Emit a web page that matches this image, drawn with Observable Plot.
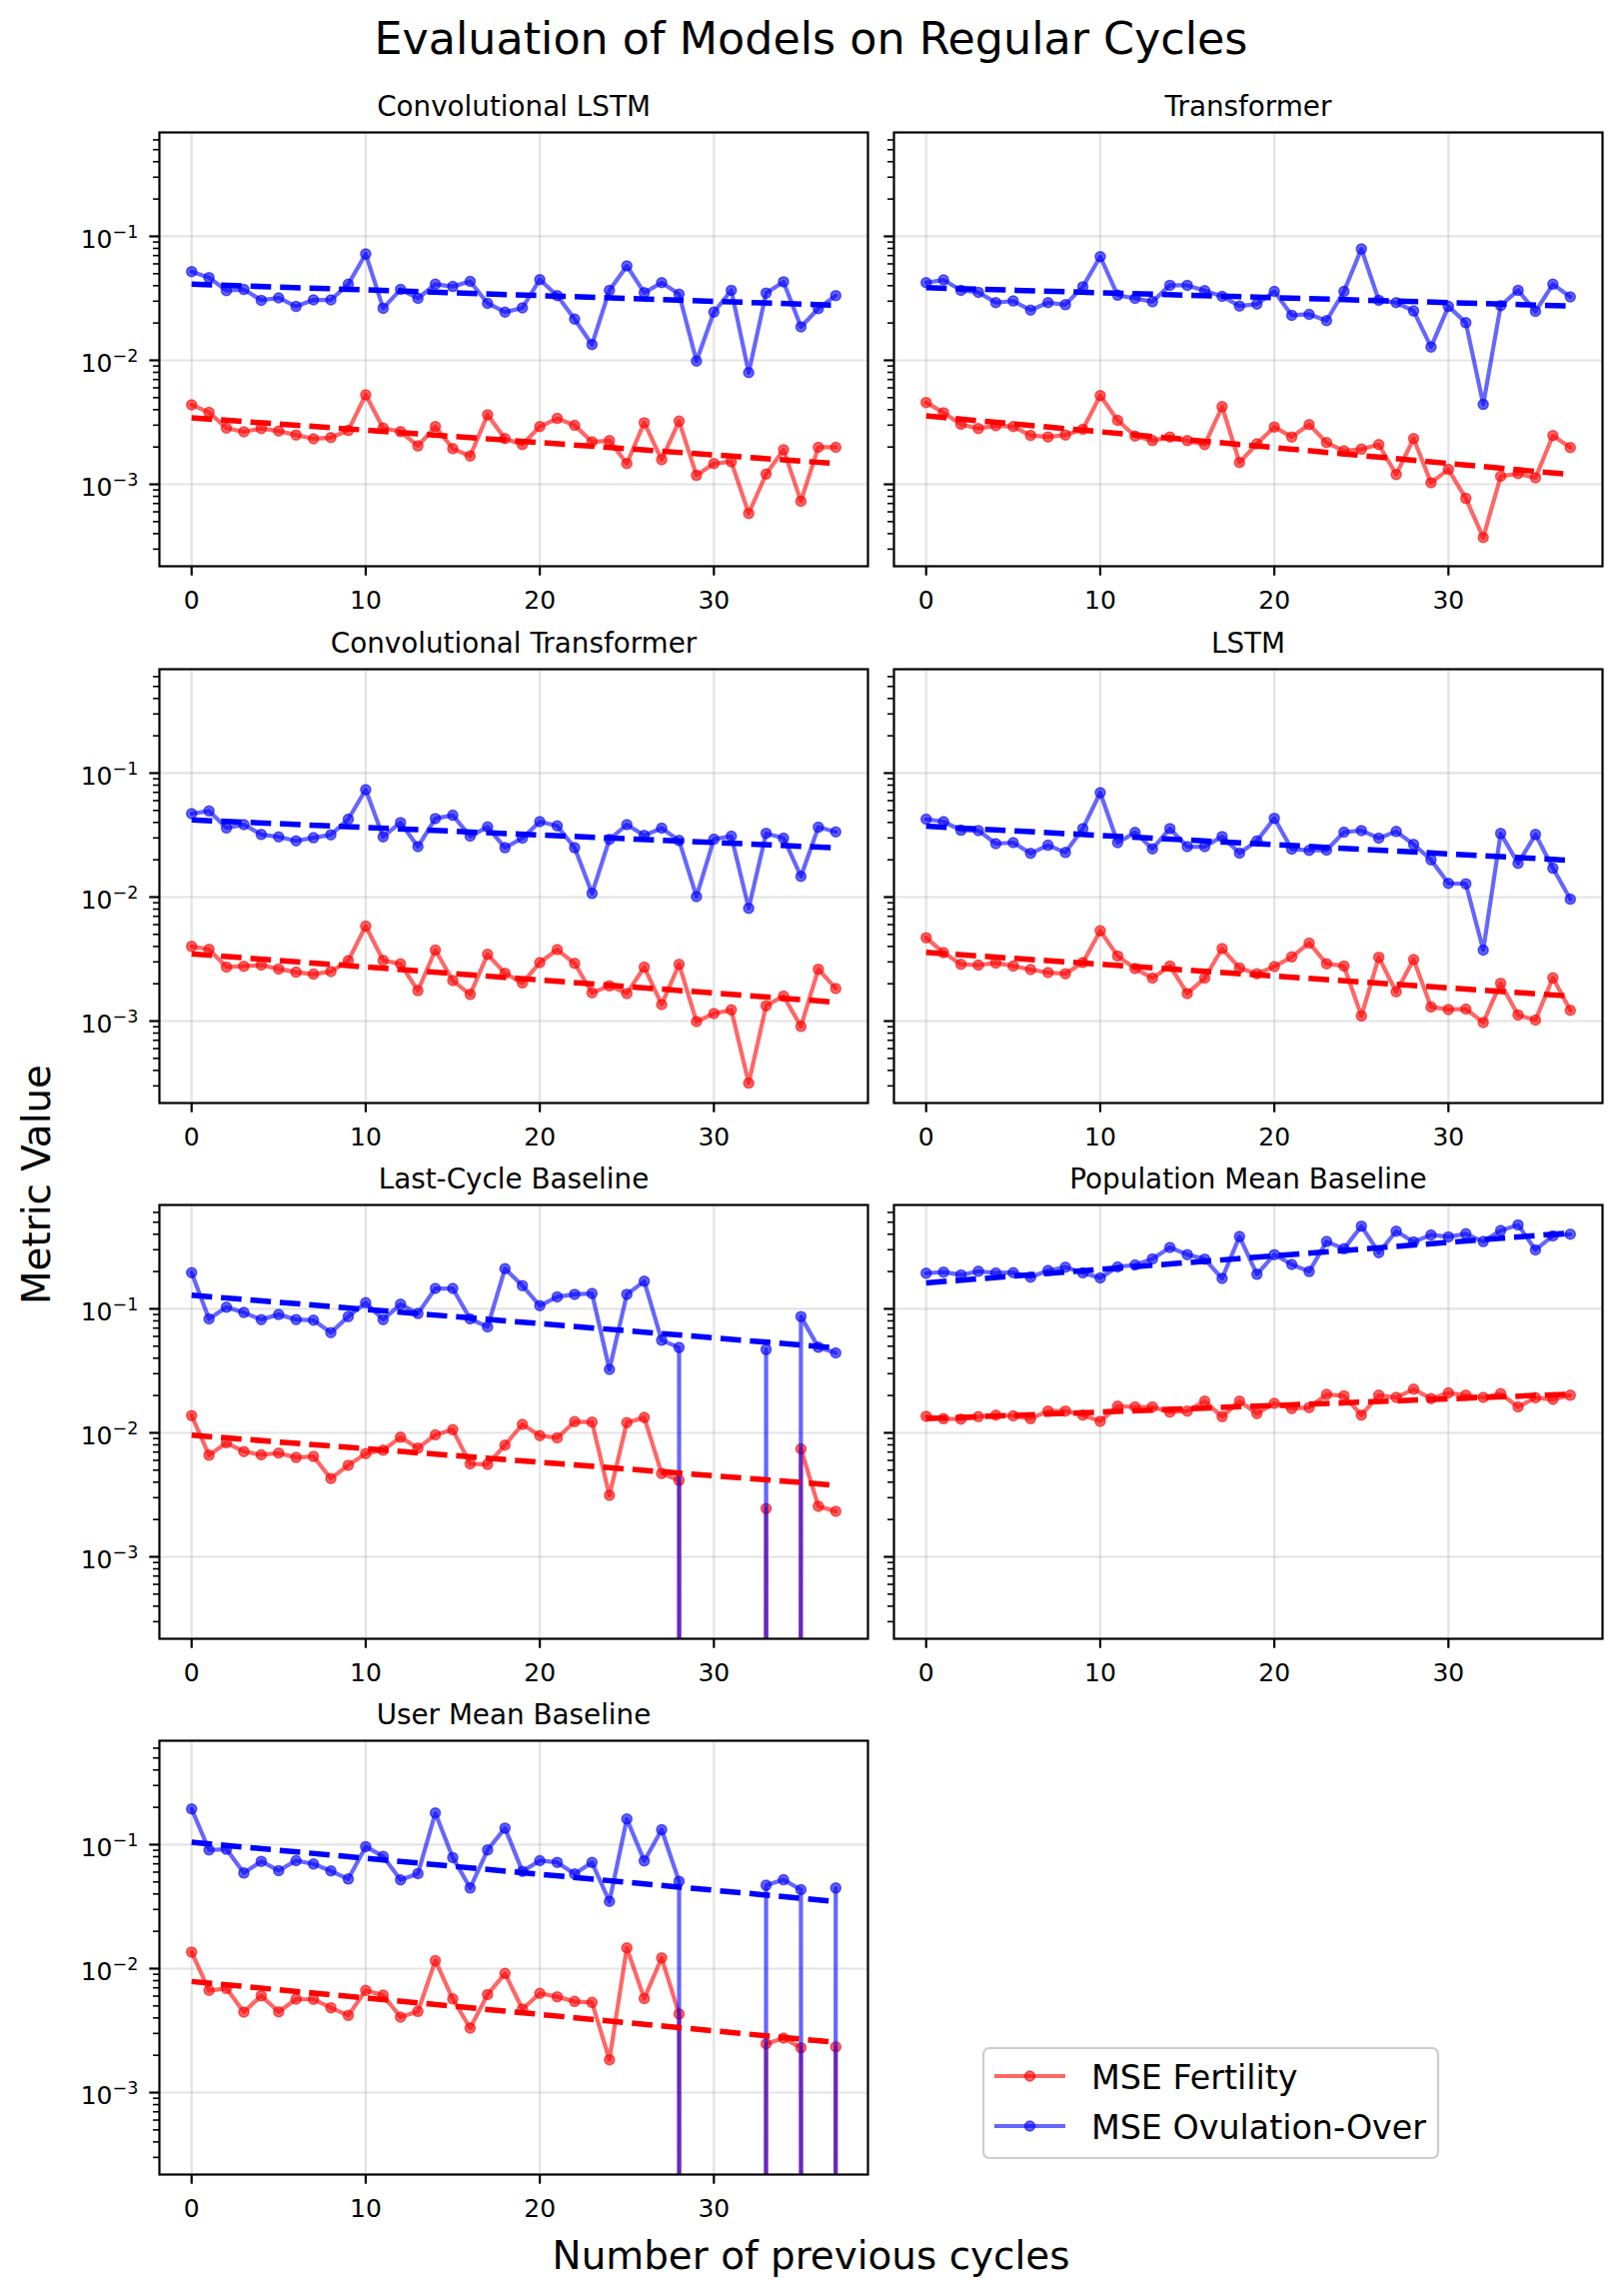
<!DOCTYPE html>
<html>
<head>
<meta charset="utf-8">
<script src="https://cdn.jsdelivr.net/npm/d3@7"></script>
<script src="https://cdn.jsdelivr.net/npm/@observablehq/plot@0.6"></script>
<style>
html, body { margin: 0; padding: 0; background: #fff; }
#root { position: relative; width: 1623px; height: 2297px; overflow: hidden; background: #fff; font-family: "DejaVu Sans", sans-serif; }
</style>
</head>
<body>
<div id="root"></div>
<script>
// ---------------- data ----------------
const cycles = [0,1,2,3,4,5,6,7,8,9,10,11,12,13,14,15,16,17,18,19,20,21,22,23,24,25,26,27,28,29,30,31,32,33,34,35,36,37];

const modelNames = ["Convolutional LSTM", "Transformer", "Convolutional Transformer", "LSTM",
  "Last-Cycle Baseline", "Population Mean Baseline", "User Mean Baseline"];

const seriesNames = ["MSE Fertility", "MSE Ovulation-Over"];
const seriesColors = ["red", "blue"];

const fertConvLSTM = [0.00438,0.0038,0.00284,0.00265,0.00282,0.00269,0.0025,0.00233,0.00238,0.00272,0.00527,0.00284,0.00266,0.00204,0.00292,0.00194,0.00169,0.00364,0.00234,0.00209,0.00292,0.0034,0.00299,0.0022,0.00225,0.00147,0.00314,0.00158,0.00323,0.00118,0.00147,0.00152,0.000582,0.00121,0.0019,0.000731,0.00199,0.00199];
const ovuConvLSTM = [0.052,0.0465,0.0365,0.0373,0.0305,0.0319,0.0272,0.0307,0.0307,0.0411,0.0721,0.0263,0.0373,0.0316,0.0411,0.0394,0.0433,0.0288,0.0245,0.0265,0.0448,0.0333,0.0215,0.0134,0.0367,0.0578,0.0351,0.0423,0.0342,0.00986,0.0245,0.0367,0.00796,0.0349,0.043,0.0186,0.0261,0.0333];

const fertTransformer = [0.00457,0.00378,0.00305,0.00282,0.00297,0.00292,0.00248,0.00241,0.0025,0.00278,0.0052,0.00328,0.00245,0.00225,0.00241,0.00225,0.00209,0.00423,0.0015,0.00212,0.0029,0.00241,0.00303,0.00217,0.00186,0.00192,0.00209,0.0012,0.00234,0.00103,0.00132,0.00077,0.000372,0.00116,0.00122,0.00113,0.00247,0.00198];
const ovuTransformer = [0.0423,0.0445,0.0367,0.0354,0.0292,0.0301,0.0254,0.0292,0.0281,0.0392,0.0686,0.0335,0.0316,0.0297,0.0403,0.0403,0.0365,0.0328,0.0274,0.0284,0.036,0.0231,0.0235,0.0209,0.036,0.0791,0.0305,0.0292,0.025,0.0128,0.0272,0.0201,0.00441,0.0276,0.0367,0.0248,0.0411,0.0325];

const fertConvTransformer = [0.004,0.00379,0.00273,0.00277,0.00283,0.00263,0.00248,0.00239,0.00251,0.00307,0.00583,0.00309,0.00289,0.00176,0.00374,0.00212,0.00164,0.00345,0.00243,0.00203,0.00296,0.00377,0.00292,0.00169,0.00192,0.00167,0.00272,0.00136,0.00287,0.00099,0.00115,0.00123,0.000316,0.00133,0.00159,0.000906,0.00262,0.00183];
const ovuConvTransformer = [0.0471,0.0495,0.0361,0.0384,0.032,0.0306,0.0284,0.0301,0.0318,0.0425,0.0735,0.0306,0.0399,0.0255,0.043,0.0457,0.031,0.0368,0.025,0.0299,0.0406,0.0375,0.025,0.0107,0.0292,0.0384,0.0314,0.036,0.0286,0.0101,0.0293,0.031,0.00813,0.0327,0.0299,0.0147,0.0366,0.0336];

const fertLSTM = [0.0047,0.00356,0.00287,0.00283,0.00294,0.00278,0.0026,0.00246,0.00241,0.00296,0.00535,0.00335,0.00265,0.00222,0.00278,0.00167,0.00222,0.00384,0.00268,0.00241,0.00275,0.00329,0.00426,0.0029,0.00278,0.0011,0.00327,0.00172,0.00313,0.0013,0.00124,0.00125,0.000975,0.00202,0.00112,0.00102,0.00223,0.00122];
const ovuLSTM = [0.0425,0.0406,0.0346,0.0344,0.027,0.0275,0.0225,0.0262,0.0229,0.0357,0.0695,0.0275,0.0332,0.0245,0.0357,0.0255,0.0255,0.0308,0.0226,0.0284,0.0432,0.0244,0.0238,0.0239,0.0334,0.0344,0.0299,0.0338,0.0266,0.02,0.0129,0.0128,0.00374,0.0326,0.0187,0.032,0.0171,0.00962];

const fertLastCycle = [0.0138,0.0066,0.0083,0.00707,0.00665,0.00686,0.00633,0.00645,0.00428,0.00548,0.00681,0.00724,0.00922,0.00752,0.00964,0.0106,0.00562,0.00556,0.00796,0.0117,0.0095,0.00912,0.0123,0.0122,0.00313,0.0121,0.0133,0.0047,0.00413,0,0,0,0,0.00245,0,0.00743,0.00256,0.00233];
const ovuLastCycle = [0.196,0.083,0.103,0.0934,0.082,0.09,0.082,0.081,0.0644,0.0867,0.112,0.082,0.109,0.0917,0.146,0.146,0.083,0.0716,0.211,0.154,0.106,0.125,0.131,0.133,0.0325,0.131,0.167,0.0558,0.0488,0,0,0,0,0.047,0,0.0867,0.049,0.0441];

const fertPopMean = [0.0136,0.013,0.0129,0.0135,0.0139,0.0137,0.013,0.015,0.015,0.0139,0.0124,0.0164,0.0162,0.0162,0.0147,0.015,0.018,0.0135,0.018,0.0143,0.0173,0.0157,0.016,0.0204,0.0199,0.0139,0.0201,0.0193,0.0225,0.0189,0.021,0.0201,0.0193,0.0207,0.0162,0.0192,0.0186,0.0201];
const ovuPopMean = [0.194,0.198,0.188,0.201,0.195,0.196,0.18,0.204,0.217,0.195,0.178,0.218,0.226,0.253,0.313,0.274,0.252,0.176,0.383,0.19,0.274,0.228,0.2,0.349,0.305,0.465,0.284,0.423,0.347,0.395,0.381,0.403,0.349,0.428,0.476,0.299,0.388,0.4];

const fertUserMean = [0.0136,0.00667,0.00692,0.00446,0.00604,0.00448,0.00567,0.00565,0.00483,0.00419,0.00667,0.0061,0.00406,0.00451,0.0116,0.0057,0.00331,0.00618,0.00914,0.00471,0.00631,0.00593,0.00543,0.00533,0.00184,0.0147,0.00574,0.0122,0.00431,0,0,0,0,0.00247,0.00275,0.0023,0,0.00234];
const ovuUserMean = [0.194,0.0906,0.0917,0.059,0.0733,0.0617,0.0743,0.0698,0.0613,0.0528,0.0964,0.0805,0.0519,0.0584,0.18,0.0786,0.0447,0.0906,0.136,0.0609,0.0743,0.072,0.058,0.0717,0.0348,0.161,0.074,0.132,0.0506,0,0,0,0,0.047,0.0521,0.0433,0,0.0447];

// trend (dashed) line endpoints at the first and last cycle, per model
const trendFertStart = [0.00344, 0.00356, 0.00348, 0.00358, 0.00958, 0.0130, 0.00787];
const trendFertEnd   = [0.00147, 0.00120, 0.00142, 0.00159, 0.00378, 0.0205, 0.00254];
const trendOvuStart  = [0.0411, 0.0385, 0.0419, 0.0373, 0.129, 0.162, 0.1045];
const trendOvuEnd    = [0.0278, 0.0274, 0.0250, 0.0198, 0.0485, 0.410, 0.0348];

const xTicks = [0, 10, 20, 30];
const yMajorTicks = [1e-3, 1e-2, 1e-1];
const yMinorTicks = [3e-4,4e-4,5e-4,6e-4,7e-4,8e-4,9e-4, 2e-3,3e-3,4e-3,5e-3,6e-3,7e-3,8e-3,9e-3, 2e-2,3e-2,4e-2,5e-2,6e-2,7e-2,8e-2,9e-2, 2e-1,3e-1,4e-1,5e-1,6e-1];

const figTitle = "Evaluation of Models on Regular Cycles";
const xLabel = "Number of previous cycles";
const yLabel = "Metric Value";

const fertility = [fertConvLSTM, fertTransformer, fertConvTransformer, fertLSTM, fertLastCycle, fertPopMean, fertUserMean];
const ovulation = [ovuConvLSTM, ovuTransformer, ovuConvTransformer, ovuLSTM, ovuLastCycle, ovuPopMean, ovuUserMean];

// ---------------- layout ----------------
const W = 709, H = 434;
const colLefts = [159, 893.5];
const rowTops = [132, 668.5, 1204.5, 1740.5];
const xDomain = [-1.85, 38.85];
const yDomain = [Math.pow(10, -3.661), Math.pow(10, -0.162)];
const FONT = "DejaVu Sans";
const SVGNS = "http://www.w3.org/2000/svg";

const root = document.getElementById("root");

// overlay for figure-level text and legend
const over = d3.select(root).append("svg")
  .attr("width", 1623).attr("height", 2297)
  .style("position", "absolute").style("left", "0px").style("top", "0px")
  .attr("font-family", FONT);

over.append("text").attr("x", 811.5).attr("y", 54).attr("text-anchor", "middle")
  .attr("font-size", 44.4).attr("fill", "black").text(figTitle);
over.append("text").attr("x", 811.5).attr("y", 2270).attr("text-anchor", "middle")
  .attr("font-size", 38.9).attr("fill", "black").text(xLabel);
over.append("text").attr("transform", "translate(50,1185) rotate(-90)").attr("text-anchor", "middle")
  .attr("font-size", 38.9).attr("fill", "black").text(yLabel);

// legend
const lg = over.append("g");
lg.append("rect").attr("x", 984).attr("y", 2049).attr("width", 455).attr("height", 110)
  .attr("rx", 6).attr("fill", "white").attr("fill-opacity", 0.8)
  .attr("stroke", "#cccccc").attr("stroke-width", 2.2);
seriesNames.forEach((name, k) => {
  const cy = 2077 + k * 50;
  lg.append("line").attr("x1", 995).attr("x2", 1066).attr("y1", cy).attr("y2", cy)
    .attr("stroke", seriesColors[k]).attr("stroke-opacity", 0.6).attr("stroke-width", 4.2);
  lg.append("circle").attr("cx", 1030.5).attr("cy", cy).attr("r", 5)
    .attr("fill", seriesColors[k]).attr("fill-opacity", 0.6)
    .attr("stroke", seriesColors[k]).attr("stroke-opacity", 0.6).attr("stroke-width", 1.5);
  lg.append("text").attr("x", 1092).attr("y", cy + 12.8).attr("font-size", 33.3)
    .attr("fill", "black").text(name);
});

// ---------------- panels ----------------
const toLogY = v => (v > 0 ? v : 1e-300); // non-positive values clipped far below, like matplotlib

function panel(i) {
  const col = i % 2, row = Math.floor(i / 2);
  const mL = 100, mR = 20, mT = 60, mB = 70;
  const data = cycles.map((c, j) => ({c, fert: fertility[i][j], ovu: ovulation[i][j]}));
  const trend = [
    {c: cycles[0], f: trendFertStart[i], o: trendOvuStart[i]},
    {c: cycles[cycles.length - 1], f: trendFertEnd[i], o: trendOvuEnd[i]}
  ];
  const seriesKeys = ["fert", "ovu"];
  const seriesMarks = [];
  seriesKeys.forEach((key, k) => {
    seriesMarks.push(Plot.line(data, {
      x: "c", y: d => toLogY(d[key]), stroke: seriesColors[k], strokeOpacity: 0.6,
      strokeWidth: 4.2, strokeLinejoin: "round", clip: true
    }));
    seriesMarks.push(Plot.dot(data.filter(d => d[key] > 0), {
      x: "c", y: key, r: 5, fill: seriesColors[k], fillOpacity: 0.6,
      stroke: seriesColors[k], strokeOpacity: 0.6, strokeWidth: 1.5, clip: true
    }));
  });
  const trendKeys = ["f", "o"];
  trendKeys.forEach((key, k) => {
    seriesMarks.push(Plot.line(trend, {
      x: "c", y: key, stroke: seriesColors[k], strokeWidth: 5.5,
      strokeDasharray: "20.6,8.9", strokeLinecap: "butt", clip: true
    }));
  });

  const svg = Plot.plot({
    width: W + mL + mR, height: H + mT + mB,
    marginLeft: mL, marginRight: mR, marginTop: mT, marginBottom: mB,
    style: {background: "none", fontFamily: FONT, fontSize: "25px", color: "black", overflow: "visible"},
    x: {domain: xDomain},
    y: {type: "log", domain: yDomain},
    marks: [
      Plot.gridX({ticks: xTicks, stroke: "#b0b0b0", strokeOpacity: 0.35, strokeWidth: 2.2}),
      Plot.gridY({ticks: yMajorTicks, stroke: "#b0b0b0", strokeOpacity: 0.35, strokeWidth: 2.2}),
      ...seriesMarks,
      Plot.axisX({ticks: xTicks, tickSize: 9.7, tickPadding: 15, tickFormat: d => String(d),
        fontSize: 25, label: null, strokeWidth: 2.2}),
      Plot.axisY({ticks: yMinorTicks, tickSize: 6, tickFormat: () => "", label: null, strokeWidth: 1.6}),
      Plot.axisY({ticks: yMajorTicks, tickSize: 9.7, tickPadding: 11.5,
        tickFormat: col === 0 ? d => "10|" + Math.round(Math.log10(d)) : () => "",
        fontSize: 25, label: null, strokeWidth: 2.2}),
      Plot.frame({stroke: "black", strokeWidth: 2.2}),
      Plot.text([modelNames[i]], {text: d => d, frameAnchor: "top", dy: -17, lineAnchor: "bottom",
        fontSize: 27.8, fill: "black"})
    ]
  });

  // matplotlib-like superscript exponents on the log tick labels
  d3.select(svg).selectAll('g[aria-label="y-axis tick label"] text').each(function () {
    const s = this.textContent;
    if (!s.includes("|")) return;
    const e = s.split("|")[1];
    this.textContent = "10";
    this.setAttribute("y", "0.47em");
    const ts = document.createElementNS(SVGNS, "tspan");
    ts.setAttribute("dy", "-10.5");
    ts.setAttribute("font-size", "17.5");
    ts.textContent = e.replace("-", "\u2212");
    this.appendChild(ts);
  });

  svg.style.position = "absolute";
  svg.style.left = (colLefts[col] - mL) + "px";
  svg.style.top = (rowTops[row] - mT) + "px";
  svg.style.maxWidth = "none";
  root.appendChild(svg);
}

modelNames.forEach((_, i) => panel(i));
</script>
</body>
</html>
